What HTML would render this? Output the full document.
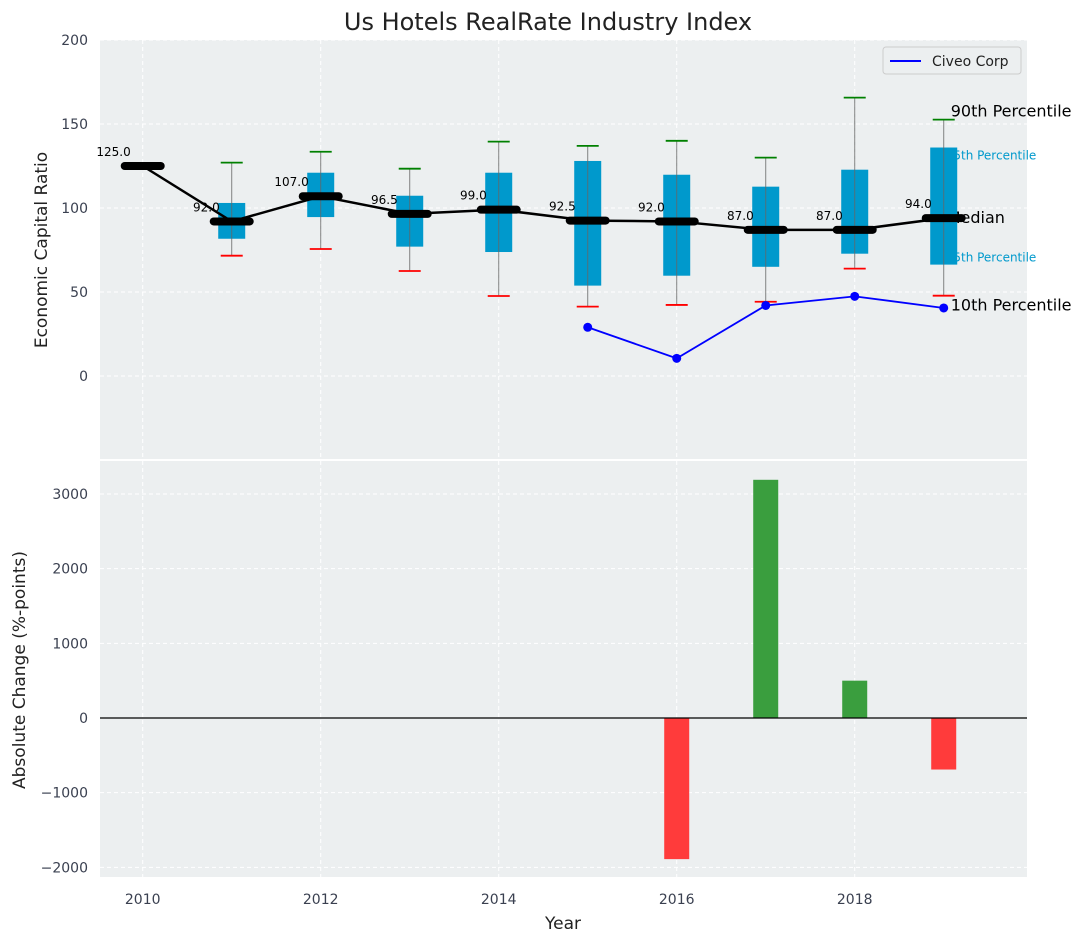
<!DOCTYPE html>
<html><head><meta charset="utf-8"><style>
body{margin:0;background:#fff}
svg{display:block;font-family:"DejaVu Sans","Liberation Sans",sans-serif}
</style></head><body>
<svg id="chart" width="1085" height="942" viewBox="0 0 1085 942" xmlns="http://www.w3.org/2000/svg">
<text x="548" y="30" font-size="24" text-anchor="middle" fill="#222">Us Hotels RealRate Industry Index</text>
<rect x="100" y="40" width="927" height="419" fill="#eceff0"/>
<rect x="100" y="461" width="927" height="416" fill="#eceff0"/>
<g id="grid"></g>
<g id="topg"></g>
<g id="bottom"></g>
<text transform="translate(47,250) rotate(-90)" font-size="17" text-anchor="middle" fill="#222">Economic Capital Ratio</text>
<text transform="translate(25,670) rotate(-90)" font-size="17" text-anchor="middle" fill="#222">Absolute Change (%-points)</text>
<text x="563" y="929" font-size="17" text-anchor="middle" fill="#222">Year</text>
<g>
<rect x="883" y="47" width="138" height="27" rx="3" fill="#eceff0" stroke="#ccc"/>
<line x1="890" y1="61" x2="921" y2="61" stroke="#0000ff" stroke-width="2"/>
<text x="932" y="66" font-size="14" fill="#222">Civeo Corp</text>
</g>
</svg>
<script>
const years=[2010,2011,2012,2013,2014,2015,2016,2017,2018,2019];
const medians=[125,92,107,96.5,99,92.5,92,87,87,94];
const p75=[null,103,121,107.3,121,128,119.8,112.7,122.8,136];
const p25=[null,81.7,94.6,77,73.8,53.8,59.7,65,72.8,66.3];
const p90=[null,127,133.5,123.4,139.5,137,140,130,165.7,152.6];
const p10=[null,71.6,75.6,62.5,47.6,41.3,42.3,44.2,63.9,47.8];
const civeoYears=[2015,2016,2017,2018,2019];
const civeoVals=[29,10.5,42,47.4,40.5];
const changeYears=[2016,2017,2018,2019];
const changeVals=[-1890,3190,500,-690];
const topTicks=[0,50,100,150,200];
const bottomTicks=[-2000,-1000,0,1000,2000,3000];
const xTicks=[2010,2012,2014,2016,2018];

const NS="http://www.w3.org/2000/svg";
const X=v=>100+(v-2009.52)*89;
const Y1=v=>376-v*1.68;
const Y2=v=>718-v*0.07467;
function mk(p,t,a){const e=document.createElementNS(NS,t);for(const k in a)e.setAttribute(k,a[k]);p.appendChild(e);return e;}
const grid=document.getElementById('grid'),topG=document.getElementById('topg'),bot=document.getElementById('bottom'),svg=document.getElementById('chart');

xTicks.forEach(t=>{
  [[40,459],[461,877]].forEach(r=>{const l=mk(grid,'line',{x1:X(t),x2:X(t),y1:r[0],y2:r[1],stroke:'#fff','stroke-dasharray':'4,3'});
  
  });
  const tx=mk(svg,'text',{x:X(t),y:904,'font-size':14,'text-anchor':'middle',fill:'#3a4050'});tx.textContent=t;
  
  
});
topTicks.forEach(t=>{
  const l=mk(grid,'line',{x1:100,x2:1027,y1:Y1(t),y2:Y1(t),stroke:'#fff','stroke-dasharray':'4,3'});
  
  
  const tx=mk(svg,'text',{x:88,y:Y1(t)+5,'font-size':14,'text-anchor':'end',fill:'#3a4050'});tx.textContent=t;
  
  
});
bottomTicks.forEach(t=>{
  const l=mk(grid,'line',{x1:100,x2:1027,y1:Y2(t),y2:Y2(t),stroke:'#fff','stroke-dasharray':'4,3'});
  
  
  const tx=mk(svg,'text',{x:88,y:Y2(t)+5,'font-size':14,'text-anchor':'end',fill:'#3a4050'});tx.textContent=(t<0?'\u2212'+(-t):t);
  
  
});

const last=years.length-1, lx=X(years[last]);
[['90th Percentile',p90[last],16,'#000',-3,7],['75th Percentile',p75[last],12,'#0099cc',12,2],['Median',medians[last],16,'#000',5,3],['25th Percentile',p25[last],12,'#0099cc',-3,2],['10th Percentile',p10[last],16,'#000',15,7]].forEach(a=>{
  const t=mk(topG,'text',{x:lx+a[5],y:Y1(a[1])+a[4],'font-size':a[2],fill:a[3]});t.textContent=a[0];
  
  
});
years.forEach((y,i)=>{
  if(p75[i]==null)return;
  const x=X(y);
  const b=mk(topG,'rect',{x:x-13.5,y:Y1(p75[i]),width:27,height:Y1(p25[i])-Y1(p75[i]),fill:'#0099cc'});
  
  
  const w=mk(topG,'line',{x1:x,x2:x,y1:Y1(p90[i]),y2:Y1(p10[i]),stroke:'#666','stroke-width':1,opacity:0.8});
  
  
  const c1=mk(topG,'line',{x1:x-11,x2:x+11,y1:Y1(p90[i]),y2:Y1(p90[i]),stroke:'#008000','stroke-width':1.8});
  
  
  const c2=mk(topG,'line',{x1:x-11,x2:x+11,y1:Y1(p10[i]),y2:Y1(p10[i]),stroke:'#ff0000','stroke-width':1.8});
  
  
});
const ml=mk(topG,'polyline',{points:years.map((y,i)=>X(y)+','+Y1(medians[i])).join(' '),fill:'none',stroke:'#000','stroke-width':2.5});


years.forEach((y,i)=>{
  const x=X(y),yy=Y1(medians[i]);
  const m=mk(topG,'line',{x1:x-18,x2:x+18,y1:yy,y2:yy,stroke:'#000','stroke-width':8,'stroke-linecap':'round'});
  
  
  const t=mk(topG,'text',{x:x-12,y:yy-10,'font-size':12,'text-anchor':'end',fill:'#000'});t.textContent=medians[i].toFixed(1);
  
  
});
const cl=mk(topG,'polyline',{points:civeoYears.map((y,i)=>X(y)+','+Y1(civeoVals[i])).join(' '),fill:'none',stroke:'#0000ff','stroke-width':1.8});


civeoYears.forEach((y,i)=>{
  const c=mk(topG,'circle',{cx:X(y),cy:Y1(civeoVals[i]),r:4.5,fill:'#0000ff'});
  
  
});
changeYears.forEach((y,i)=>{
  const v=changeVals[i];
  const r=mk(bot,'rect',{x:X(y)-12.5,y:Math.min(Y2(0),Y2(v)),width:25,height:Math.abs(Y2(v)-Y2(0)),fill:v>=0?'#3a9e3e':'#ff3b3b'});
  
  
});
const z=mk(bot,'line',{x1:100,x2:1027,y1:Y2(0),y2:Y2(0),stroke:'#000','stroke-width':1.2});


</script>
</body></html>
